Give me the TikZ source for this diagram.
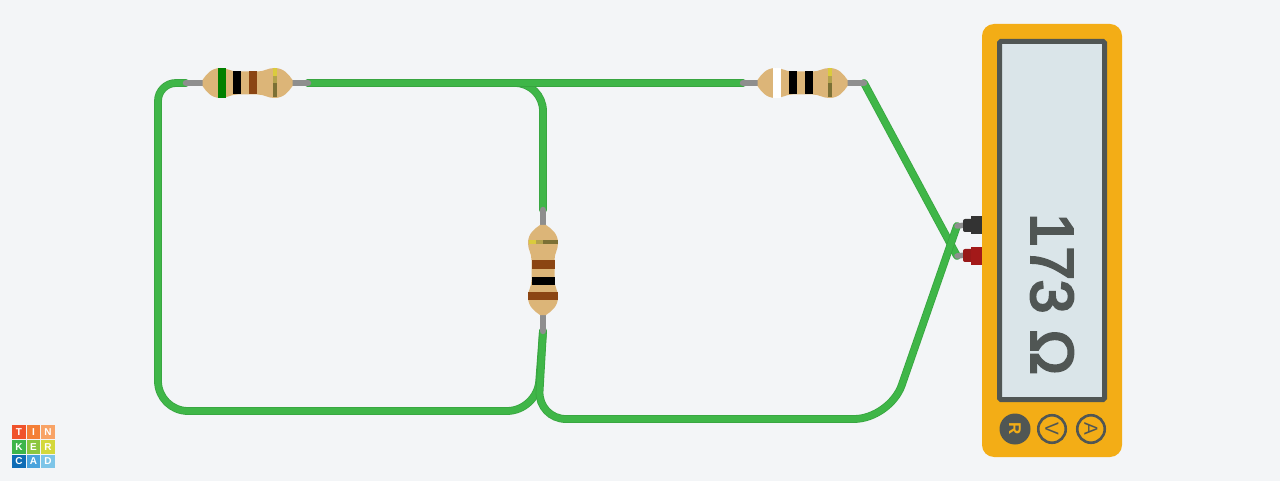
\documentclass[tikz,border=0pt]{standalone}
\usepackage{fontspec}
\setmainfont{Liberation Sans}
\newfontfamily\readoutfont[FakeBold=4]{Liberation Sans}
\definecolor{bgclr}{HTML}{F3F5F7}
\definecolor{wireclr}{HTML}{3FB648}
\definecolor{wireedge}{HTML}{38A540}
\definecolor{leadclr}{HTML}{8E8E8E}
\definecolor{bodyclr}{HTML}{DCB578}
\definecolor{brownclr}{HTML}{8B4513}
\definecolor{greenclr}{HTML}{008000}
\definecolor{casingclr}{HTML}{F3AD16}
\definecolor{screenclr}{HTML}{DAE5E9}
\definecolor{darkclr}{HTML}{505654}
\definecolor{tolA}{HTML}{DACB3D}
\definecolor{tolB}{HTML}{B3A24D}
\definecolor{tolC}{HTML}{7B7035}
\tikzset{
  x=1pt,y=-1pt,
  wire/.style={draw=wireedge,double=wireclr,double distance=6.2pt,line width=0.8pt,line cap=round},
  lead/.style={draw=leadclr,line width=6.5pt,line cap=round},
  readout/.style={font=\readoutfont\fontsize{60}{60}\selectfont,text=darkclr,rotate=-90,inner sep=0pt},
  modeoff/.style={circle,draw=darkclr,line width=2.6pt,minimum size=27.5pt,inner sep=0pt,text=darkclr,rotate=-90,font=\fontsize{19}{19}\selectfont},
  modeon/.style={circle,fill=darkclr,minimum size=31pt,inner sep=0pt,text=casingclr,rotate=-90,font=\bfseries\fontsize{17}{17}\selectfont},
  tile/.style={minimum size=13.4pt,inner sep=0pt,text=white,font=\bfseries\fontsize{10}{10}\selectfont}
}
% #1 centre, #2 rotation, #3 #4 #5 band colours, #6 second band offset
\newcommand{\resistorbody}[6]{
  \begin{scope}[shift={#1},rotate=#2]
    \fill[bodyclr] (-45,-3) .. controls (-41,-9) and (-36,-15) .. (-27,-15)
      .. controls (-20,-15) and (-17,-11.5) .. (-10,-11.5) -- (10,-11.5)
      .. controls (17,-11.5) and (20,-15) .. (27,-15)
      .. controls (36,-15) and (41,-9) .. (45,-3) -- (45,3)
      .. controls (41,9) and (36,15) .. (27,15)
      .. controls (20,15) and (17,11.5) .. (10,11.5) -- (-10,11.5)
      .. controls (-17,11.5) and (-20,15) .. (-27,15)
      .. controls (-36,15) and (-41,9) .. (-45,3) -- cycle;
    \fill[#3] (-29.5,-14.8) rectangle (-21.5,14.8);
    \fill[#4] (#6-8,-11.5) rectangle (#6,11.5);
    \fill[#5] (#6+8,-11.5) rectangle (#6+16,11.5);
    \fill[tolA] (25.5,-14.5) rectangle (29.5,-7);
    \fill[tolB] (25.5,-7) rectangle (29.5,0);
    \fill[tolC] (25.5,0) rectangle (29.5,14.5);
  \end{scope}
}
\begin{document}
\begin{tikzpicture}
\useasboundingbox (0,0) rectangle (1280,481);
\fill[bgclr] (0,0) rectangle (1280,481);
% terminals
\coordinate (leftA) at (186,83);
\coordinate (leftB) at (308,83);
\coordinate (rightA) at (743,83);
\coordinate (rightB) at (864,83);
\coordinate (midA) at (543,210);
\coordinate (midB) at (543,331);
\coordinate (probeblack) at (957,226);
\coordinate (probered) at (957,256);
% wires
\draw[wire,rounded corners=18pt] (leftA) -- (158,83) [rounded corners=30pt] -- (158,411) -- (537,411) [rounded corners=0pt] -- (midB);
\draw[wire,rounded corners=28pt] (leftB) -- (543,83) -- (midA);
\draw[wire] (leftB) -- (rightA);
\draw[wire] (rightB) -- (probered);
\draw[wire,rounded corners=28pt] (midB) -- (538,419) [rounded corners=36pt] -- (890,419) -- (probeblack);
% leads
\draw[lead] (leftA) -- (205,83);
\draw[lead] (290,83) -- (leftB);
\draw[lead] (rightA) -- (760,83);
\draw[lead] (845,83) -- (rightB);
\draw[lead] (midA) -- (543,228);
\draw[lead] (543,312) -- (midB);
\draw[lead,line width=5.5pt] (probeblack) -- (966,225);
\draw[lead,line width=5.5pt] (probered) -- (966,255);
% resistors
\resistorbody{(247.5,83)}{0}{greenclr}{black}{brownclr}{-6.5}
\resistorbody{(802.5,83)}{0}{white}{black}{black}{-5.5}
\resistorbody{(543,270)}{90}{brownclr}{black}{brownclr}{-6.5}
% probes
\fill[black!80,rounded corners=2pt] (963,219) rectangle (973,232);
\fill[black!80] (971,216) rectangle (982,234);
\fill[red!55!black!90!white,rounded corners=2pt] (963,249) rectangle (973,262);
\fill[red!60!black!90!white] (971,247) rectangle (982,265);
% meter
\fill[casingclr,rounded corners=12pt] (982,24) rectangle (1122,457);
\draw[draw=darkclr,fill=screenclr,line width=5pt,rounded corners=1.5pt] (999.5,41.5) rectangle (1104.5,399.5);
\node[readout] (reading) at (1052,294) {173 Ω};
\node[modeon] (modeR) at (1015,429) {R};
\node[modeoff] (modeV) at (1052,429) {V};
\node[modeoff] (modeA) at (1091,429) {A};
% logo
\definecolor{tileTclr}{HTML}{F0532C}
\definecolor{tileIclr}{HTML}{F47F37}
\definecolor{tileNclr}{HTML}{F8A366}
\definecolor{tileKclr}{HTML}{3DB54A}
\definecolor{tileEclr}{HTML}{8CC63F}
\definecolor{tileRclr}{HTML}{D4D83B}
\definecolor{tileCclr}{HTML}{0E6CB5}
\definecolor{tileAclr}{HTML}{4AA3DC}
\definecolor{tileDclr}{HTML}{7DC5E8}
\node[tile,fill=tileTclr] (tileT) at (19,432) {T};
\node[tile,fill=tileIclr] (tileI) at (33.5,432) {I};
\node[tile,fill=tileNclr] (tileN) at (48,432) {N};
\node[tile,fill=tileKclr] (tileK) at (19,447) {K};
\node[tile,fill=tileEclr] (tileE) at (33.5,447) {E};
\node[tile,fill=tileRclr] (tileR) at (48,447) {R};
\node[tile,fill=tileCclr] (tileC) at (19,461.5) {C};
\node[tile,fill=tileAclr] (tileA) at (33.5,461.5) {A};
\node[tile,fill=tileDclr] (tileD) at (48,461.5) {D};
\end{tikzpicture}
\end{document}
